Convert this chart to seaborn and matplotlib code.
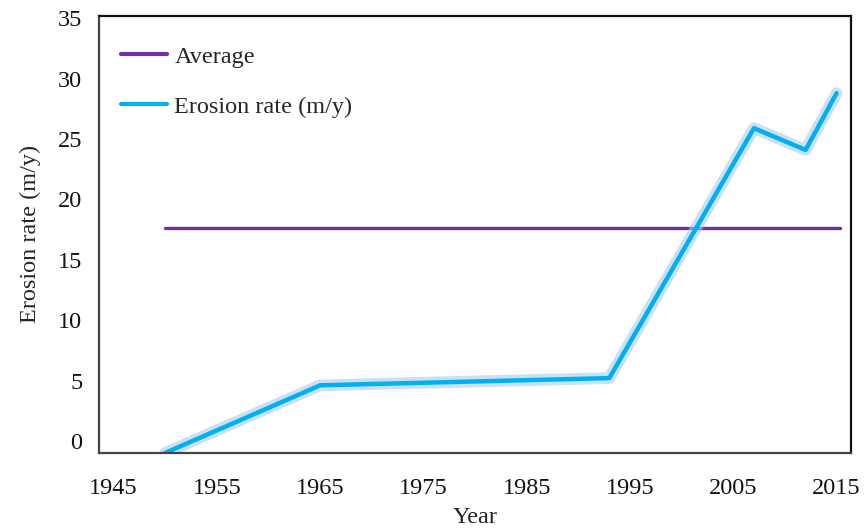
import numpy as np
import pandas as pd
import matplotlib.pyplot as plt
import matplotlib.patheffects as pe
import seaborn as sns

# values
years = [1950, 1965, 1993, 2007, 2012, 2015]
erosion = [-1.0, 4.6, 5.2, 25.9, 24.1, 28.8]
avg_years = [1950, 2015.3]
avg_value = [17.6, 17.6]
xticks = [1945, 1955, 1965, 1975, 1985, 1995, 2005, 2015]
yticks = [0, 5, 10, 15, 20, 25, 30, 35]

sns.set_style("white")
plt.rcParams["font.family"] = ["Liberation Serif", "DejaVu Serif"]
plt.rcParams["font.size"] = 17.5

df = pd.DataFrame({"year": years, "rate": erosion})
df_avg = pd.DataFrame({"year": avg_years, "rate": avg_value})

fig = plt.figure(figsize=(8.64, 5.31), dpi=100)
ax = fig.add_axes([0.1146, 0.147, 0.8704, 0.823])

sns.lineplot(data=df_avg, x="year", y="rate", color="#7030A0", linewidth=2.4,
             label="Average", ax=ax)
sns.lineplot(data=df, x="year", y="rate", color="#00B0F0", linewidth=3.2,
             label="Erosion rate (m/y)", ax=ax,
             path_effects=[pe.Stroke(linewidth=8.5, foreground="#A8CDEE", alpha=0.6),
                           pe.Normal()])

ax.set_xlim(1943.6, 2016.4)
ax.set_ylim(-1.0, 35.2)
ax.set_xticks(xticks)
ax.set_yticks(yticks)
ax.tick_params(axis="both", length=0, labelsize=17.5, colors="#111111")
ax.tick_params(axis="x", pad=18)
ax.tick_params(axis="y", pad=12)
ax.set_xlabel("Year", fontsize=17.5, labelpad=6)
ax.set_ylabel("Erosion rate (m/y)", fontsize=17.5, labelpad=12)

for side in ["left", "bottom"]:
    ax.spines[side].set_color("#444444")
    ax.spines[side].set_linewidth(1.6)
for side in ["top", "right"]:
    ax.spines[side].set_color("#111111")
    ax.spines[side].set_linewidth(1.6)

leg = ax.legend(loc="upper left", bbox_to_anchor=(0.0, 0.982), frameon=False,
                fontsize=17.5, handlelength=1.9, handletextpad=0.3, labelspacing=1.15)
for line in leg.get_lines():
    line.set_path_effects([])
    line.set_linewidth(3)

plt.savefig("out.png", dpi=100)
plt.close()
